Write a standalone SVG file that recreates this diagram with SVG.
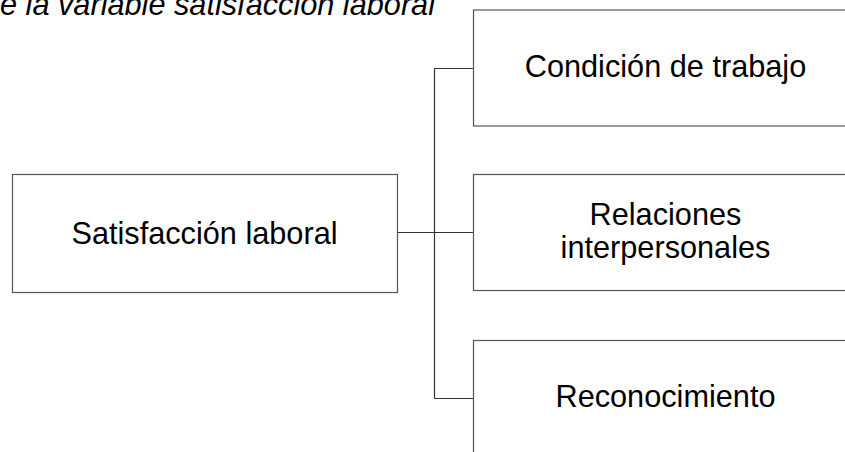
<svg xmlns="http://www.w3.org/2000/svg" width="845" height="452" viewBox="0 0 845 452">
<style>
.box{fill:#fff;stroke:#555;stroke-width:1.2}
.lbl{font-family:"Liberation Sans",Arial,sans-serif;font-size:30.7px;fill:#000;text-anchor:middle}
.title{font-family:"Liberation Sans",Arial,sans-serif;font-size:30.7px;font-style:italic;fill:#000;text-anchor:end}
.conn{fill:none;stroke:#333;stroke-width:1.2}
</style>
<rect width="845" height="452" fill="#fff"/>
<text class="title" x="435" y="14.5">e la variable satisfacción laboral</text>
<g id="connectors">
<path class="conn" d="M397.5 232.5 H434.5"/>
<path class="conn" d="M434.5 68.5 V398.5"/>
<path class="conn" d="M434.5 68.5 H473.5"/>
<path class="conn" d="M434.5 232.5 H473.5"/>
<path class="conn" d="M434.5 398.5 H473.5"/>
</g>
<g id="satisfaccion">
<rect class="box" x="12.5" y="174.5" width="385" height="118"/>
<text class="lbl" x="204.5" y="244">Satisfacción laboral</text>
</g>
<g id="condicion">
<rect class="box" x="473.5" y="10" width="385" height="116"/>
<text class="lbl" x="665.5" y="77.3">Condición de trabajo</text>
</g>
<g id="relaciones">
<rect class="box" x="473.5" y="174.5" width="385" height="116"/>
<text class="lbl" x="665.5" y="225">Relaciones</text>
<text class="lbl" x="665.5" y="258.3">interpersonales</text>
</g>
<g id="reconocimiento">
<rect class="box" x="473.5" y="340.5" width="385" height="130"/>
<text class="lbl" x="665.5" y="407.3">Reconocimiento</text>
</g>
</svg>
